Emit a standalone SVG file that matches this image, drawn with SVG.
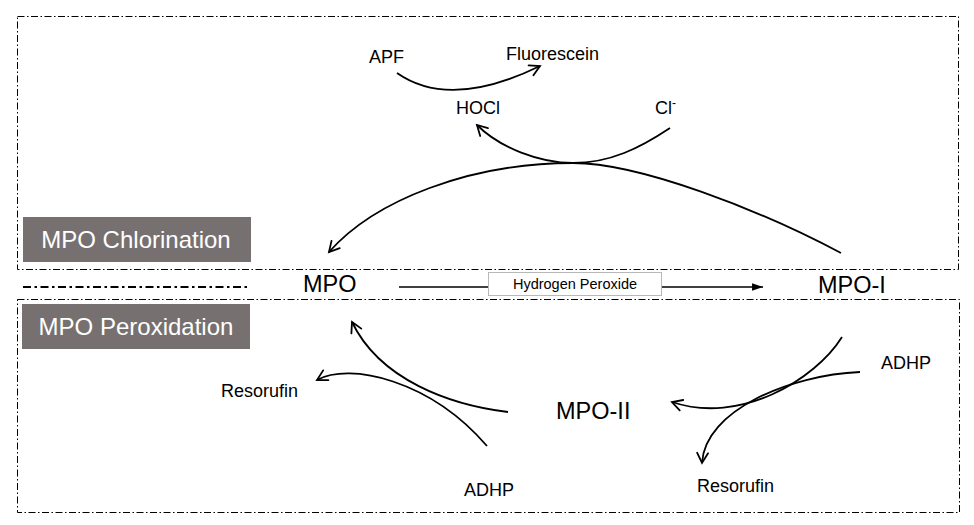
<svg xmlns="http://www.w3.org/2000/svg" width="974" height="525" viewBox="0 0 974 525">
<style>
text{font-family:"Liberation Sans",Arial,sans-serif;fill:#000}
.t18{font-size:18px}
.big{font-size:23.5px}
.lbl{font-size:24px;fill:#fff}
.frame{fill:none;stroke:#000;stroke-width:1;stroke-dasharray:7 2.5 1.5 2.5}
.c{fill:none;stroke:#000;stroke-width:1.8;marker-end:url(#open)}
</style>
<defs>
<marker id="open" markerUnits="userSpaceOnUse" markerWidth="16" markerHeight="16" viewBox="-12 -8 14 16" refX="0" refY="0" orient="auto">
<path d="M-10,-5.5 L0,0 L-10,5.5" fill="none" stroke="#000" stroke-width="1.8" stroke-linecap="round" stroke-linejoin="miter"/>
</marker>
<marker id="solid" markerUnits="userSpaceOnUse" markerWidth="12" markerHeight="10" viewBox="-10 -4 11 8" refX="0" refY="0" orient="auto">
<path d="M-10,-3.5 L0,0 L-10,3.5 Z" fill="#000"/>
</marker>
</defs>
<rect width="974" height="525" fill="#fff"/>
<g id="frames">
<rect class="frame" x="17.5" y="16.5" width="941" height="253"/>
<rect class="frame" x="17.5" y="299.5" width="942" height="213"/>
<line x1="23" y1="287" x2="250" y2="287" stroke="#000" stroke-width="2" stroke-dasharray="8 3.5 2.5 3.5"/>
</g>
<g id="connectors">
<path class="c" d="M841 253 C760 210,640 163,573 163 C470 163,375 200,329 252"/>
<path class="c" d="M670 128 C640 148,610 163,573 163 C540 163,500 148,477 125"/>
<path class="c" d="M397 73 Q450 110 540 66"/>
<path d="M399 287 L763 287" stroke="#000" stroke-width="1.5" fill="none" marker-end="url(#solid)"/>
<path class="c" d="M842 337 C815 380,740 425,672 402"/>
<path class="c" d="M860 372 C790 375,705 410,702 463"/>
<path class="c" d="M508 412 C450 405,380 380,352 322"/>
<path class="c" d="M487 446 C430 380,350 362,317 380"/>
</g>
<g id="label-chlorination">
<rect x="23" y="217" width="228" height="45" fill="#767170"/>
<text class="lbl" x="136" y="247.5" text-anchor="middle">MPO Chlorination</text>
</g>
<g id="label-peroxidation">
<rect x="22" y="304" width="228" height="45" fill="#767170"/>
<text class="lbl" x="136" y="334.5" text-anchor="middle">MPO Peroxidation</text>
</g>
<g id="hydrogen-peroxide">
<rect x="488.5" y="272.5" width="173" height="23" fill="#fff" stroke="#b8b8b8" stroke-width="1"/>
<text x="575" y="289" text-anchor="middle" style="font-size:14.5px">Hydrogen Peroxide</text>
</g>
<g id="node-mpo"><text class="big" x="303" y="292">MPO</text></g>
<g id="node-mpo-i"><text class="big" x="818" y="293">MPO-I</text></g>
<g id="node-mpo-ii"><text class="big" x="556" y="419">MPO-II</text></g>
<g id="node-apf"><text class="t18" x="369" y="63">APF</text></g>
<g id="node-fluorescein"><text class="t18" x="506" y="60">Fluorescein</text></g>
<g id="node-hocl"><text class="t18" x="456" y="114">HOCl</text></g>
<g id="node-cl"><text class="t18" x="655" y="114">Cl<tspan style="font-size:12px" dy="-7">-</tspan></text></g>
<g id="node-resorufin-left"><text class="t18" x="221" y="397">Resorufin</text></g>
<g id="node-adhp-bottom"><text class="t18" x="464" y="496">ADHP</text></g>
<g id="node-adhp-right"><text class="t18" x="881" y="369">ADHP</text></g>
<g id="node-resorufin-bottom"><text class="t18" x="697" y="492">Resorufin</text></g>
</svg>
